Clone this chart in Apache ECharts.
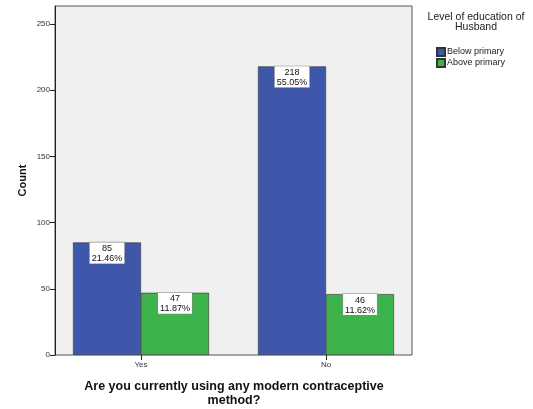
<!DOCTYPE html>
<html><head><meta charset="utf-8">
<script src="https://cdn.jsdelivr.net/npm/echarts@6/dist/echarts.min.js"></script>
<style>html,body{margin:0;padding:0;background:#fff}#c{width:533px;height:409px}</style>
</head><body><div id="c"></div>
<script>
const categories = ['Yes', 'No'];
const seriesNames = ['Below primary', 'Above primary'];
const belowPrimary = [85, 218];
const abovePrimary = [47, 46];
const belowPct = ['21.46%', '55.05%'];
const abovePct = ['11.87%', '11.62%'];
const yTicks = [0, 50, 100, 150, 200, 250];

const chart = echarts.init(document.getElementById('c'));
const fontF = '"Liberation Sans", Arial, sans-serif';
function labelFor(pcts) {
  return {
    show: true, position: 'insideTop', distance: 0,
    formatter: p => p.value + '\n' + pcts[p.dataIndex],
    backgroundColor: '#fff', borderColor: '#888', borderWidth: 0.6,
    padding: [1, 2, 0, 2], fontSize: 9, lineHeight: 10, color: '#111', fontFamily: fontF
  };
}
chart.setOption({
  animation: false,
  textStyle: { fontFamily: fontF },
  title: [
    { text: 'Are you currently using any modern contraceptive\nmethod?', left: 234, top: 380, textAlign: 'center',
      textStyle: { fontSize: 12.5, fontWeight: 'bold', color: '#111', lineHeight: 14, fontFamily: fontF }, padding: 0 },
    { text: 'Level of education of\nHusband', left: 476, top: 12, textAlign: 'center',
      textStyle: { fontSize: 10.5, fontWeight: 'normal', color: '#222', lineHeight: 10, fontFamily: fontF }, padding: 0 }
  ],
  grid: [
    { left: 55, top: 6, width: 357, height: 349, show: true, backgroundColor: '#f0f0f0', borderColor: '#555', borderWidth: 1 },
    { left: 48.5, top: 6, width: 370, height: 349 }
  ],
  xAxis: [
    { gridIndex: 0, type: 'category', data: categories, show: false },
    { gridIndex: 1, type: 'category', data: categories,
      axisLine: { show: false },
      axisTick: { show: true, alignWithLabel: true, length: 5, lineStyle: { color: '#222' } },
      axisLabel: { fontSize: 8, color: '#333', margin: 6 } }
  ],
  yAxis: [
    { gridIndex: 0, type: 'value', min: 0, max: 263.6, interval: 50,
      splitLine: { show: false },
      axisLine: { show: true, lineStyle: { color: '#222' } },
      axisTick: { show: true, length: 5, lineStyle: { color: '#222' }, customValues: yTicks },
      axisLabel: { fontSize: 8, color: '#333', margin: 5, customValues: yTicks },
      name: 'Count', nameLocation: 'middle', nameGap: 27, nameMoveOverlap: false,
      nameTextStyle: { fontSize: 11, fontWeight: 'bold', color: '#111' } },
    { gridIndex: 1, type: 'value', min: 0, max: 263.6, show: false }
  ],
  legend: {
    data: seriesNames, orient: 'vertical', left: 431, top: 42,
    itemWidth: 8, itemHeight: 8, itemGap: 1,
    textStyle: { fontSize: 9, color: '#222', padding: [0, 0, 0, -3] },
    icon: 'rect'
  },
  series: [
    { name: seriesNames[0], type: 'bar', xAxisIndex: 1, yAxisIndex: 1, data: belowPrimary,
      barWidth: 68, barGap: '0%',
      itemStyle: { color: '#3e57ab', borderColor: '#333', borderWidth: 0.6 },
      label: labelFor(belowPct) },
    { name: seriesNames[1], type: 'bar', xAxisIndex: 1, yAxisIndex: 1, data: abovePrimary,
      barWidth: 68, barGap: '0%',
      itemStyle: { color: '#3cb44b', borderColor: '#333', borderWidth: 0.6 },
      label: labelFor(abovePct) }
  ]
});
</script></body></html>
